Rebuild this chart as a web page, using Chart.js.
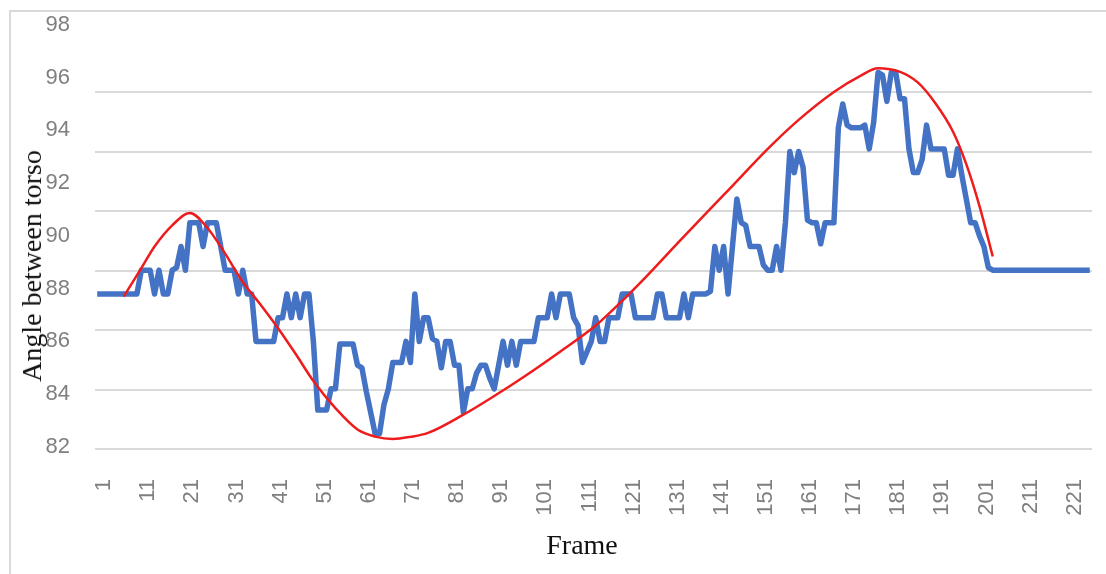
<!DOCTYPE html>
<html>
<head>
<meta charset="utf-8">
<script src="https://cdn.jsdelivr.net/npm/chart.js@4.4.1/dist/chart.umd.min.js"></script>
<style>
  html, body { margin: 0; padding: 0; background: #fff; overflow: hidden; }
  #frame { position: absolute; left: 9px; top: 10px; width: 1200px; height: 700px; border: 2px solid #d9d9d9; }
  #wrap { position: absolute; left: 0; top: 0; width: 1106px; height: 574px; }
  .axis-title { position: absolute; font-family: "Liberation Serif", "Times New Roman", serif; font-size: 28px; color: #111; white-space: nowrap; transform: translate(-50%, -50%); }
  #ytitle { left: 32px; top: 266px; transform: translate(-50%, -50%) rotate(-90deg); }
  #xtitle { left: 582px; top: 545px; }
</style>
</head>
<body>
<div id="frame"></div>
<div id="wrap"><canvas id="chart"></canvas></div>
<div class="axis-title" id="ytitle">Angle between torso</div>
<div class="axis-title" id="xtitle">Frame</div>
<script>
// measured angle per frame (frames 1..226)
const blueAngle = [
  87.8, 87.8, 87.8, 87.8, 87.8, 87.8, 87.8, 87.8, 87.8, 87.8,
  88.7, 88.7, 88.7, 87.8, 88.7, 87.8, 87.8, 88.7, 88.8, 89.6,
  88.7, 90.5, 90.5, 90.5, 89.6, 90.5, 90.5, 90.5, 89.6, 88.7,
  88.7, 88.7, 87.8, 88.7, 87.8, 87.8, 86.0, 86.0, 86.0, 86.0,
  86.0, 86.9, 86.9, 87.8, 86.9, 87.8, 86.9, 87.8, 87.8, 86.0,
  83.4, 83.4, 83.4, 84.2, 84.2, 85.9, 85.9, 85.9, 85.9, 85.1,
  85.0, 84.1, 83.3, 82.5, 82.5, 83.6, 84.2, 85.2, 85.2, 85.2,
  86.0, 85.2, 87.8, 86.0, 86.9, 86.9, 86.1, 86.0, 85.0, 86.0,
  86.0, 85.1, 85.1, 83.3, 84.2, 84.2, 84.8, 85.1, 85.1, 84.6,
  84.2, 85.1, 86.0, 85.1, 86.0, 85.1, 86.0, 86.0, 86.0, 86.0,
  86.9, 86.9, 86.9, 87.8, 86.9, 87.8, 87.8, 87.8, 86.9, 86.6,
  85.2, 85.6, 86.0, 86.9, 86.0, 86.0, 86.9, 86.9, 86.9, 87.8,
  87.8, 87.8, 86.9, 86.9, 86.9, 86.9, 86.9, 87.8, 87.8, 86.9,
  86.9, 86.9, 86.9, 87.8, 86.9, 87.8, 87.8, 87.8, 87.8, 87.9,
  89.6, 88.7, 89.6, 87.8, 89.6, 91.4, 90.5, 90.4, 89.6, 89.6,
  89.6, 88.9, 88.7, 88.7, 89.6, 88.7, 90.5, 93.2, 92.4, 93.2,
  92.6, 90.6, 90.5, 90.5, 89.7, 90.5, 90.5, 90.5, 94.1, 95.0,
  94.2, 94.1, 94.1, 94.1, 94.2, 93.3, 94.3, 96.2, 96.1, 95.1,
  96.2, 96.2, 95.2, 95.2, 93.3, 92.4, 92.4, 92.9, 94.2, 93.3,
  93.3, 93.3, 93.3, 92.3, 92.3, 93.3, 92.3, 91.4, 90.5, 90.5,
  90.0, 89.6, 88.8, 88.7, 88.7, 88.7, 88.7, 88.7, 88.7, 88.7,
  88.7, 88.7, 88.7, 88.7, 88.7, 88.7, 88.7, 88.7, 88.7, 88.7,
  88.7, 88.7, 88.7, 88.7, 88.7, 88.7
];

// red trend curve, read at these frames
const trendFrames = [7, 11, 14, 18, 22, 26, 30, 34, 38, 42, 46, 50, 55, 60, 64, 68, 72, 76, 84, 91, 98, 106, 114, 121, 126, 133, 145, 153, 160, 168, 174, 178, 183, 187, 191, 195, 198, 201, 204];
const trendAngle = [87.7, 88.78, 89.6, 90.4, 90.87, 90.3, 89.33, 88.25, 87.4, 86.5, 85.52, 84.5, 83.47, 82.66, 82.39, 82.3, 82.38, 82.53, 83.22, 83.93, 84.69, 85.62, 86.6, 87.7, 88.55, 89.8, 91.9, 93.3, 94.4, 95.46, 96.07, 96.36, 96.22, 95.82, 95.03, 93.95, 92.72, 91.13, 89.22];

const frameTicks = [1, 11, 21, 31, 41, 51, 61, 71, 81, 91, 101, 111, 121, 131, 141, 151, 161, 171, 181, 191, 201, 211, 221];
const angleTicks = [82, 84, 86, 88, 90, 92, 94, 96, 98];
const gridTicks = [82, 84, 86, 88, 90, 92, 94];

const tickFont = { family: '"Liberation Sans", Arial, sans-serif', size: 22 };

// keep the plot box where the reference has it
function noPadding(axis) {
  axis.paddingTop = 0;
  axis.paddingBottom = 0;
  axis.paddingLeft = 0;
  axis.paddingRight = 0;
}

new Chart(document.getElementById('chart'), {
  type: 'line',
  data: {
    datasets: [
      {
        label: 'Trend',
        data: trendFrames.map((f, i) => ({ x: f, y: trendAngle[i] })),
        borderColor: '#ee1c1c',
        borderWidth: 2.5,
        pointRadius: 0,
        tension: 0.4,
        cubicInterpolationMode: 'monotone',
        order: 0,
      },
      {
        label: 'Angle',
        data: blueAngle.map((v, i) => ({ x: i + 1, y: v })),
        borderColor: '#4472c4',
        borderWidth: 5.5,
        borderJoinStyle: 'round',
        pointRadius: 0,
        tension: 0,
        order: 1,
      },
    ],
  },
  options: {
    responsive: true,
    maintainAspectRatio: false,
    animation: false,
    layout: { padding: { left: 0, right: 14, top: 12, bottom: 0 } },
    plugins: { legend: { display: false }, tooltip: { enabled: false } },
    scales: {
      x: {
        type: 'linear',
        min: 0.5,
        max: 226.5,
        afterBuildTicks: (axis) => { axis.ticks = frameTicks.map((v) => ({ value: v })); },
        afterFit: (axis) => { axis.height = 125; noPadding(axis); },
        grid: { display: false },
        border: { display: false },
        ticks: { autoSkip: false, minRotation: 90, maxRotation: 90, padding: 22, labelOffset: 7, color: '#7f7f7f', font: tickFont },
      },
      y: {
        min: 81.92,
        max: 98.49,
        afterBuildTicks: (axis) => { axis.ticks = angleTicks.map((v) => ({ value: v })); },
        afterFit: (axis) => { axis.width = 95; noPadding(axis); },
        grid: { display: false },
        border: { display: false },
        ticks: { padding: 17, color: '#7f7f7f', font: tickFont },
      },
      grid: {
        position: 'right',
        min: 82,
        max: 96.69,
        afterBuildTicks: (axis) => { axis.ticks = gridTicks.map((v) => ({ value: v })); },
        afterFit: (axis) => { axis.width = 0; noPadding(axis); },
        grid: { color: '#d9d9d9', lineWidth: 2, drawTicks: false },
        border: { display: false },
        ticks: { display: false },
      },
    },
  },
});
</script>
</body>
</html>
